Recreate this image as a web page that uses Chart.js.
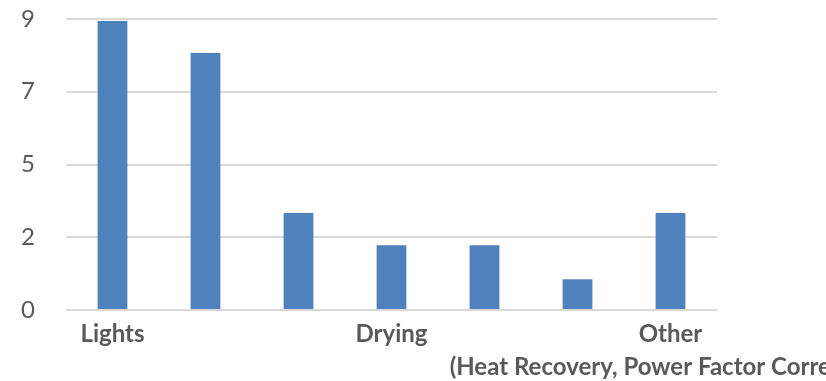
<!DOCTYPE html>
<html>
<head>
<meta charset="utf-8">
<script src="https://cdn.jsdelivr.net/npm/chart.js@4/dist/chart.umd.min.js"></script>
<style>
  html, body { margin: 0; padding: 0; background: #ffffff; }
  canvas { display: block; }
</style>
</head>
<body>
<canvas id="chart" width="826" height="381"></canvas>
<script>
// Category names (only some are labelled on the axis)
const categories = [
  "Lights",
  "",
  "",
  "Drying",
  "",
  "",
  ["Other", "(Heat Recovery, Power Factor Correction)"]
];

// Bar heights
const values = [8.94, 7.95, 3.0, 2.0, 2.0, 0.95, 3.0];

// Value axis range and tick interval
const axisMin = 0;
const axisMax = 9;
const axisStep = 2.25;

const barColor = "#4F81BD";
const gridColor = "#D9D9D9";
const textColor = "#595959";

new Chart(document.getElementById("chart"), {
  type: "bar",
  data: {
    labels: categories,
    datasets: [{
      data: values,
      backgroundColor: barColor,
      borderWidth: 0,
      barPercentage: 0.32,
      categoryPercentage: 1.0
    }]
  },
  options: {
    responsive: false,
    animation: false,
    layout: { padding: { top: 19, right: 109, bottom: 0, left: 0 } },
    plugins: {
      legend: { display: false },
      tooltip: { enabled: false }
    },
    scales: {
      x: {
        grid: { display: false, drawTicks: false },
        border: { display: false },
        ticks: {
          autoSkip: false,
          maxRotation: 0,
          minRotation: 0,
          padding: 7,
          color: textColor,
          font: { family: "Lato", size: 24, weight: "bold", lineHeight: 1.4 }
        },
        afterFit(scale) {
          scale.height = 71;
          scale.paddingLeft = 0;
          scale.paddingRight = 0;
        }
      },
      y: {
        min: axisMin,
        max: axisMax,
        grid: { color: gridColor, lineWidth: 2, drawTicks: false },
        border: { display: false },
        ticks: {
          stepSize: axisStep,
          padding: 31,
          color: textColor,
          font: { family: "Lato", size: 24 },
          callback: (v) => Math.round(v).toString()
        },
        afterFit(scale) {
          scale.width = 66;
          scale.paddingTop = 0;
          scale.paddingBottom = 0;
        }
      }
    }
  }
});
</script>
</body>
</html>
